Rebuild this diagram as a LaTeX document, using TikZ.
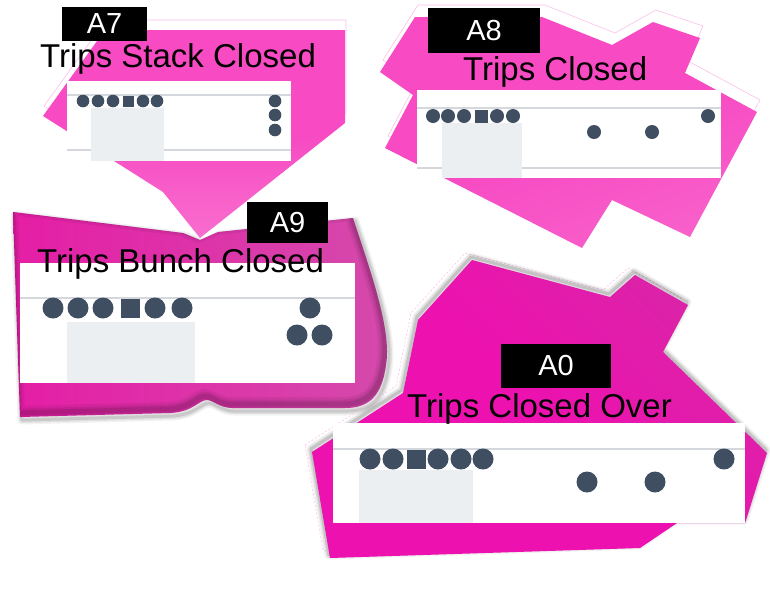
\documentclass[tikz,border=0pt]{standalone}
\usepackage{fontspec}
\setmainfont{Liberation Sans}
\definecolor{pinkA}{RGB}{247,74,195}
\definecolor{pinkL}{RGB}{248,110,206}
\definecolor{magA}{RGB}{237,17,175}
\definecolor{magB}{RGB}{218,36,168}
\definecolor{magL}{RGB}{229,30,166}
\definecolor{magR}{RGB}{213,74,172}
\definecolor{dotc}{RGB}{63,78,96}
\definecolor{linec}{RGB}{212,216,221}
\definecolor{boxc}{RGB}{236,239,241}
\tikzset{
  ttl/.style={font=\fontsize{33}{36}\selectfont, inner sep=0pt, anchor=base west, text=black},
  tag/.style={fill=black, text=white, inner sep=0pt, font=\fontsize{29}{30}\selectfont},
  faint/.style={draw=pinkA!35, line width=0.6pt},
  glint/.style={line join=round, draw=black},
  gline/.style={draw=linec, line width=1.6pt},
  gbox/.style={fill=boxc},
  dotf/.style={fill=dotc},
}
\def\pAseven{(43,116) -- (105,30) -- (345,30) -- (345,123) -- (200,238) -- (163,192) -- cycle}
\def\pAeight{(380,72) -- (415,17) -- (542,17) -- (612,45) -- (653,22) -- (700,38) -- (685,73) -- (757,112) -- (690,237) -- (612,200) -- (582,248) -- (385,148) -- (413,95) -- cycle}
\def\pAnine{(13,212) -- (183,233) -- (200,240) -- (218,232) -- (353,218) .. controls (370,270) and (392,330) .. (386,365) .. controls (382,395) and (370,408) .. (345,408) -- (232,408) .. controls (220,408) and (213,400) .. (207,400) .. controls (199,400) and (193,412) .. (170,413) -- (20,417) -- cycle}
\def\pAzero{(312,452) -- (403,393) -- (418,320) -- (472,260) -- (610,297) -- (635,275) -- (688,305) -- (663,352) -- (767,453) -- (747,517) -- (745,523) -- (677,523) -- (640,548) -- (330,558) -- cycle}
\begin{document}
\begin{tikzpicture}[x=1pt,y=-1pt]
\useasboundingbox (0,0) rectangle (770,595);
\fill[white] (0,0) rectangle (770,595);

% ---------- A9 shape ----------
\begin{scope}[shift={(2,3)}]
  \foreach \w/\o in {9/0.05,6/0.07,3/0.1} \draw[glint, line width=\w pt, opacity=\o] \pAnine;
\end{scope}
\shade[left color=magL, right color=magR] \pAnine;
\begin{scope}
  \clip \pAnine;
  \begin{scope}[shift={(-2,-4)}]
    \foreach \w/\o in {14/0.06,9/0.08,5/0.1} \draw[glint, line width=\w pt, opacity=\o] \pAnine;
  \end{scope}
\end{scope}

% ---------- A7 shape ----------
\begin{scope}[shift={(1,-10)}]
  \draw[faint] \pAseven;
\end{scope}
\shade[top color=pinkA, bottom color=pinkL, middle color=pinkA] \pAseven;

% ---------- A8 shape ----------
\begin{scope}[shift={(3,-12)}]
  \draw[faint] \pAeight;
\end{scope}
\shade[top color=pinkA, bottom color=pinkA!88!white, middle color=pinkA, shading angle=20] \pAeight;

% ---------- A0 shape ----------
\begin{scope}[shift={(-7,-7)}]
  \draw[draw=pinkA!40, line width=0.5pt, dash pattern=on 2pt off 2pt] \pAzero;
\end{scope}
\begin{scope}[shift={(-1,-3)}]
  \foreach \w/\o in {9/0.05,6/0.08,3/0.12} \draw[glint, line width=\w pt, opacity=\o] \pAzero;
\end{scope}
\shade[top color=magB, bottom color=magA, middle color=magA, shading angle=-45] \pAzero;

% ---------- A7 inset ----------
\fill[white] (67,81) rectangle (291,161);
\draw[gline] (67,95) -- (291,95);
\draw[gline] (67,150) -- (291,150);
\fill[gbox] (91,108) rectangle (164,161);
\foreach \x in {83,98,113,143,157} \fill[dotf] (\x,101) circle[radius=6.3pt];
\fill[dotf] (122.5,95.5) rectangle (133.5,106.5);
\foreach \y in {101,115,130} \fill[dotf] (275,\y) circle[radius=6.3pt];

% ---------- A8 inset ----------
\fill[white] (417,90) rectangle (721,178);
\draw[gline] (417,108) -- (721,108);
\draw[gline] (417,168) -- (721,168);
\fill[gbox] (442,123) rectangle (522,178);
\foreach \x in {433,448,464,497,513} \fill[dotf] (\x,116) circle[radius=7pt];
\fill[dotf] (474.5,109.5) rectangle (487.5,122.5);
\fill[dotf] (594,132) circle[radius=7pt];
\fill[dotf] (652,132) circle[radius=7pt];
\fill[dotf] (708,116) circle[radius=7pt];

% ---------- A9 inset ----------
\fill[white] (20,263) rectangle (355,383);
\draw[gline] (20,298) -- (355,298);
\fill[gbox] (67,322) rectangle (195,383);
\foreach \x in {53,78,103,155,182} \fill[dotf] (\x,308) circle[radius=10.5pt];
\fill[dotf] (120.5,298.5) rectangle (139.5,317.5);
\fill[dotf] (310,308) circle[radius=10.5pt];
\fill[dotf] (297,335) circle[radius=10.5pt];
\fill[dotf] (322,335) circle[radius=10.5pt];

% ---------- A0 inset ----------
\fill[white] (333,423) rectangle (745,523);
\draw[gline] (333,449) -- (745,449);
\fill[gbox] (359,470) rectangle (473,523);
\foreach \x in {370,393,438,461,483} \fill[dotf] (\x,459) circle[radius=10.5pt];
\fill[dotf] (406.5,449.5) rectangle (425.5,468.5);
\fill[dotf] (587,482) circle[radius=10.5pt];
\fill[dotf] (655,482) circle[radius=10.5pt];
\fill[dotf] (724,459) circle[radius=10.5pt];

% ---------- labels ----------
\node[tag, minimum width=85pt, minimum height=34pt] (t7) at (104.5,24) {A7};
\node[tag, minimum width=112pt, minimum height=45pt] (t8) at (484,30.5) {A8};
\node[tag, minimum width=81pt, minimum height=41pt] (t9) at (287.5,222.5) {A9};
\node[tag, minimum width=110pt, minimum height=44pt] (t0) at (556,366) {A0};

% ---------- titles ----------
\node[ttl] (n7) at (40,67) {Trips Stack Closed};
\node[ttl] (n8) at (463,80) {Trips Closed};
\node[ttl] (n9) at (37,272) {Trips Bunch Closed};
\node[ttl] (n0) at (407,417) {Trips Closed Over};
\end{tikzpicture}
\end{document}
